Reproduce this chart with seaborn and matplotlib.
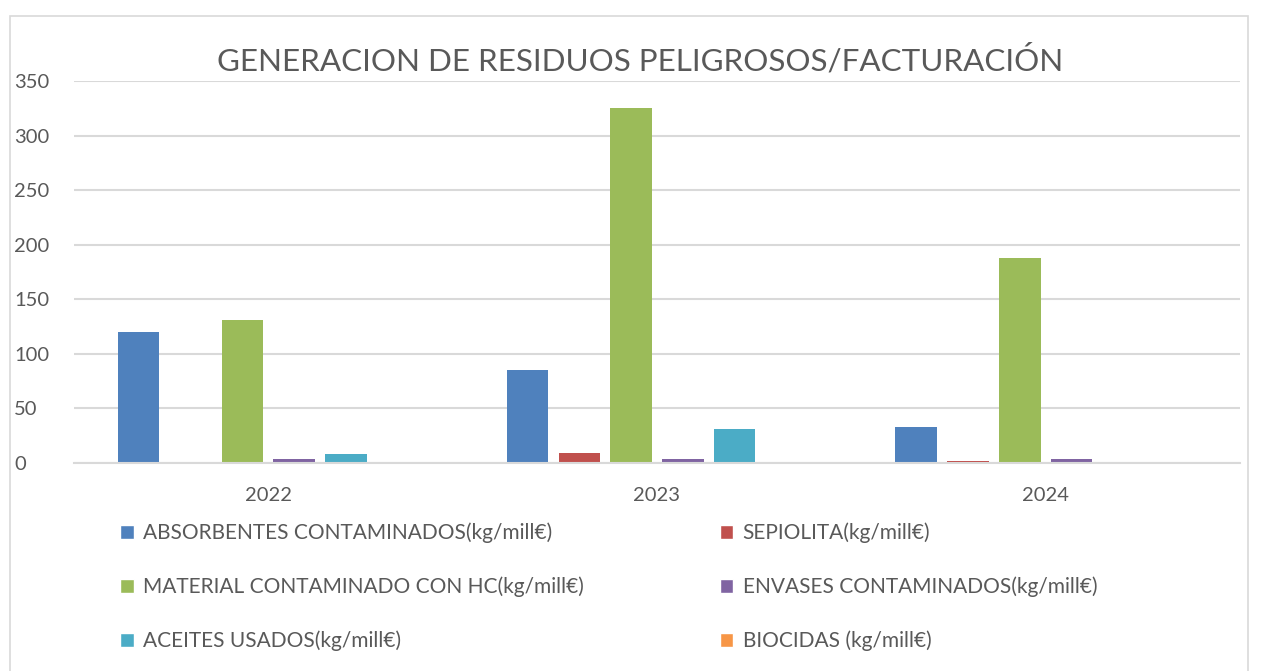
import pandas as pd
import matplotlib
matplotlib.use("Agg")
import matplotlib.pyplot as plt
from matplotlib.patches import Patch, Rectangle
import seaborn as sns

years = ["2022", "2023", "2024"]
series = [
    "ABSORBENTES CONTAMINADOS(kg/mill€)",
    "SEPIOLITA(kg/mill€)",
    "MATERIAL CONTAMINADO CON HC(kg/mill€)",
    "ENVASES CONTAMINADOS(kg/mill€)",
    "ACEITES USADOS(kg/mill€)",
    "BIOCIDAS (kg/mill€)",
]
absorbentes = [120, 85, 33]
sepiolita = [0, 9.5, 1.8]
material = [131, 325, 188]
envases = [3.5, 3.7, 3.7]
aceites = [8, 31, 0]
biocidas = [0, 0, 0]
colors = ["#4f81bd", "#c0504d", "#9bbb59", "#8064a2", "#4bacc6", "#f79646"]

values = [absorbentes, sepiolita, material, envases, aceites, biocidas]
rows = []
for name, vals in zip(series, values):
    for y, v in zip(years, vals):
        rows.append({"year": y, "serie": name, "valor": v})
df = pd.DataFrame(rows)

sns.set_style("white")
plt.rcParams["font.family"] = ["Lato", "DejaVu Sans"]
text_color = "#595959"
grid_color = "#d9d9d9"

fig = plt.figure(figsize=(12.62, 6.71), dpi=100)
ax = fig.add_axes([0.0586, 0.31, 0.924, 0.569])

sns.barplot(data=df, x="year", y="valor", hue="serie", hue_order=series,
            palette=colors, saturation=1, width=0.8, gap=0.2, linewidth=0,
            legend=False, ax=ax)

ax.set_ylim(0, 350)
ax.set_xlim(-0.5, 2.5)
ax.set_yticks(range(0, 351, 50))
ax.yaxis.grid(True, color=grid_color, linewidth=1.5)
ax.set_axisbelow(True)
for s in ["top", "right", "left"]:
    ax.spines[s].set_visible(False)
ax.spines["bottom"].set_color(grid_color)
ax.spines["bottom"].set_linewidth(1.5)
ax.tick_params(axis="both", length=0, labelsize=14.5, labelcolor=text_color)
ax.tick_params(axis="x", pad=17)
ax.tick_params(axis="y", pad=43)
for lab in ax.get_yticklabels():
    lab.set_horizontalalignment("left")
ax.set_xlabel("")
ax.set_ylabel("")

fig.text(0.507, 0.91, "GENERACION DE RESIDUOS PELIGROSOS/FACTURACIÓN",
         ha="center", va="center", fontsize=22.6, color=text_color)

# legend in two columns, filled row by row
handles = [Patch(facecolor=c) for c in colors]
opts = dict(loc="upper left", frameon=False, fontsize=15, handlelength=0.65,
            handleheight=0.65, handletextpad=0.45, labelspacing=1.6,
            labelcolor=text_color)
left = fig.legend(handles[0::2], series[0::2], bbox_to_anchor=(0.0805, 0.249), **opts)
fig.legend(handles[1::2], series[1::2], bbox_to_anchor=(0.5555, 0.249), **opts)

fig.patches.append(Rectangle((10 / 1262, -0.01), 1238 / 1262, 1 - 16 / 671 + 0.01,
                             transform=fig.transFigure, fill=False,
                             edgecolor=grid_color, linewidth=1.2))

fig.savefig("out.png", dpi=100)
